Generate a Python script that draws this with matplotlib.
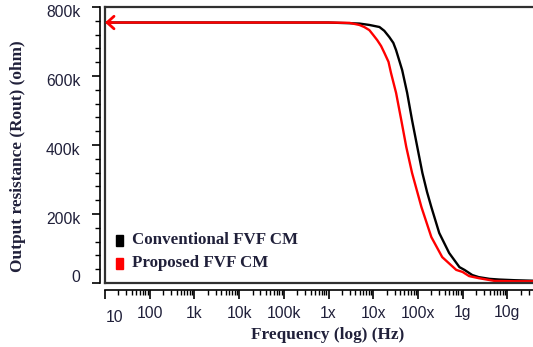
import numpy as np
import matplotlib.pyplot as plt
from matplotlib.patches import Rectangle
from matplotlib.transforms import ScaledTranslation
from matplotlib.ticker import FixedLocator, LogLocator, NullFormatter, MultipleLocator

# data (Hz, kohm)
f_conv = [10, 1e4, 1e6, 4.9e6, 8.2e6, 1.38e7, 1.77e7, 2.29e7, 2.82e7, 3.25e7, 4.45e7,
          5.75e7, 7.4e7, 9.7e7, 1.26e8, 1.6e8, 2.0e8, 3.0e8, 5.0e8, 8.5e8, 1.1e9,
          1.65e9, 2.3e9, 4e9, 6.6e9, 1.5e10, 5.4e10]
r_conv = [755, 755, 755, 752, 748, 742, 731, 713, 696, 675, 617,
          551, 472, 394, 319, 264, 220, 145, 87, 46, 38,
          23, 17, 12, 10, 8, 6]

f_prop = [10, 1e4, 1e6, 2.95e6, 4.9e6, 6.3e6, 8.2e6, 1.0e7, 1.23e7, 1.5e7, 1.78e7,
          2.2e7, 2.5e7, 3.25e7, 4.25e7, 5.5e7, 7.4e7, 1.2e8, 2.0e8, 3.5e8, 7.2e8,
          1.0e9, 1.4e9, 2.3e9, 5.2e9, 1.5e10, 5.4e10]
r_prop = [755, 755, 755, 754, 748, 742, 733, 719, 704, 687, 667,
          641, 609, 551, 472, 394, 319, 220, 133, 75, 38,
          32, 20, 14, 6, 5, 5]

x_ticks = [1e2, 1e3, 1e4, 1e5, 1e6, 1e7, 1e8, 1e9, 1e10]
x_labels = ["100", "1k", "10k", "100k", "1x", "10x", "100x", "1g", "10g"]
y_ticks = [0, 200e3, 400e3, 600e3, 800e3]
y_labels = ["0", "200k", "400k", "600k", "800k"]

W, H = 533, 347
lab_col = "#20203a"

fig = plt.figure(figsize=(W / 100, H / 100), dpi=100)
ax = fig.add_axes([105 / W, 1 - 283 / H, 440 / W, 276 / H])

ax.plot(f_conv, np.array(r_conv) * 1e3, color="black", lw=1.7)
ax.plot(f_prop, np.array(r_prop) * 1e3, color="red", lw=1.7)
ax.annotate("", xy=(10, 755e3), xytext=(14, 755e3),
            arrowprops=dict(arrowstyle="->, head_length=0.5, head_width=0.45",
                            color="red", lw=2, shrinkA=0, shrinkB=0))

ax.set_xscale("log")
ax.set_xlim(10, 10 ** (1 + 440 / 44.7))
ax.set_ylim(0, 800e3)

# box of the plot area
ax.spines["right"].set_visible(False)
ax.spines["top"].set_linewidth(1.6)
ax.spines["top"].set_color("#303030")
ax.plot([0, 0], [0, 1], transform=ax.transAxes, color="#303030", lw=1.6, clip_on=False)
ax.plot([0, 1], [0, 0], transform=ax.transAxes, color="#303030", lw=1.6, clip_on=False)

# detached axes
ax.spines["left"].set_position(("outward", 3.6))
ax.spines["bottom"].set_position(("outward", 4.7))
ax.spines["left"].set_linewidth(1.2)
ax.spines["bottom"].set_linewidth(1.2)

ax.xaxis.set_major_locator(FixedLocator([10] + x_ticks))
ax.set_xticklabels([""] + x_labels)
ax.xaxis.set_minor_locator(LogLocator(base=10, subs=np.arange(2, 10), numticks=20))
ax.xaxis.set_minor_formatter(NullFormatter())
ax.yaxis.set_major_locator(FixedLocator(y_ticks))
ax.set_yticklabels(y_labels)
ax.yaxis.set_minor_locator(MultipleLocator(40e3))

ax.tick_params(axis="x", which="major", length=6.5, width=1.2, pad=5,
               labelsize=11.3, labelcolor=lab_col)
ax.tick_params(axis="x", which="minor", length=3.5, width=1.0)
ax.tick_params(axis="y", which="major", length=6, width=1.2, pad=8,
               labelsize=11.3, labelcolor=lab_col)
ax.tick_params(axis="y", which="minor", length=3.5, width=1.0)
for lab in ax.get_xticklabels() + ax.get_yticklabels():
    lab.set_family("Liberation Sans")

# y labels sit a bit below their ticks
shifts = [5, -3, -3, -3, -3]
for lab, s in zip(ax.get_yticklabels(), shifts):
    lab.set_transform(lab.get_transform() + ScaledTranslation(0, s / 72, fig.dpi_scale_trans))

# lowered "10" label at the start of the axis
fig.text(106 / W, 1 - 318 / H, "10", ha="left", va="center", fontsize=11.3,
         color=lab_col, family="Liberation Sans")

fig.text(328 / W, 1 - 335 / H, "Frequency (log) (Hz)", ha="center", va="center",
         fontsize=12.4, fontweight="bold", family="Liberation Serif", color=lab_col)
fig.text(18 / W, 1 - 156 / H, "Output resistance (Rout) (ohm)", ha="center", va="center",
         rotation=90, fontsize=12.4, fontweight="bold", family="Liberation Serif", color=lab_col)

# legend
for y, col, txt in [(240, "black", "Conventional FVF CM"), (263, "red", "Proposed FVF CM")]:
    fig.add_artist(Rectangle((116 / W, 1 - (y + 5.5) / H), 7 / W, 11 / H,
                             transform=fig.transFigure, color=col))
    fig.text(132 / W, 1 - y / H, txt, ha="left", va="center", fontsize=12.2,
             fontweight="bold", family="Liberation Serif", color=lab_col)

fig.savefig("out.png", dpi=100)
